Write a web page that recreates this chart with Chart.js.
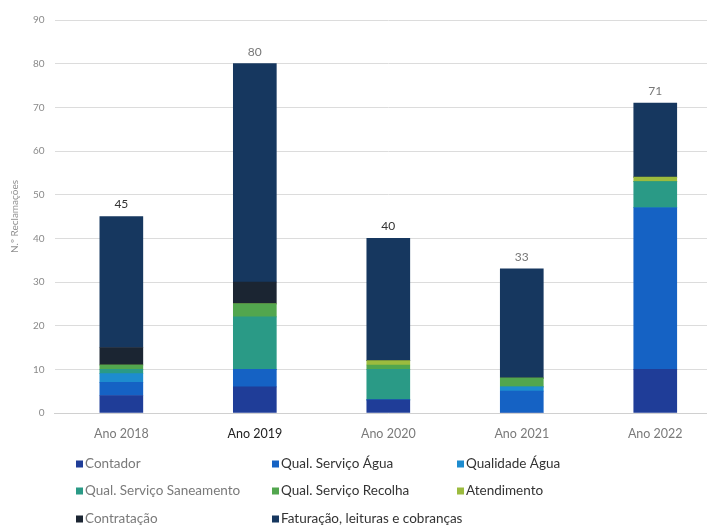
<!DOCTYPE html>
<html>
<head>
<meta charset="utf-8">
<script src="https://cdn.jsdelivr.net/npm/chart.js@4.4.1/dist/chart.umd.min.js"></script>
<style>
  html, body { margin: 0; padding: 0; background: #fff; overflow: hidden; }
  #wrap { width: 707px; height: 526px; overflow: hidden; position: relative; }
  #wrap canvas { position: absolute; left: 0; top: 0; }
</style>
</head>
<body>
<div id="wrap"><canvas id="chart" width="722" height="526"></canvas></div>
<script>
// complaints per year, stacked by category
const years = ['Ano 2018', 'Ano 2019', 'Ano 2020', 'Ano 2021', 'Ano 2022'];

const contador              = [4, 6, 3, 0, 10];
const qualServicoAgua       = [3, 4, 0, 5, 37];
const qualidadeAgua         = [2, 0, 0, 1, 0];
const qualServicoSaneamento = [1, 12, 7, 0, 6];
const qualServicoRecolha    = [1, 3, 1, 2, 0];
const atendimento           = [0, 0, 1, 0, 1];
const contratacao           = [4, 5, 0, 0, 0];
const faturacao             = [30, 50, 28, 25, 17];

const yTicks = [0, 10, 20, 30, 40, 50, 60, 70, 80, 90];

const series = [
  { label: 'Contador', data: contador, color: '#1f3d98' },
  { label: 'Qual. Serviço Água', data: qualServicoAgua, color: '#1562c4' },
  { label: 'Qualidade Água', data: qualidadeAgua, color: '#1d8ccf' },
  { label: 'Qual. Serviço Saneamento', data: qualServicoSaneamento, color: '#2a9a86' },
  { label: 'Qual. Serviço Recolha', data: qualServicoRecolha, color: '#52a64e' },
  { label: 'Atendimento', data: atendimento, color: '#9cbb3e' },
  { label: 'Contratação', data: contratacao, color: '#1b2532' },
  { label: 'Faturação, leituras e cobranças', data: faturacao, color: '#16375f' },
];

const FONT = 'Lato, "Liberation Sans", sans-serif';
const tickColors = ['#7a7a7a', '#222222', '#7a7a7a', '#7a7a7a', '#7a7a7a'];
const totalColors = ['#333333', '#777777', '#333333', '#777777', '#777777'];

// totals on top of each stack
const totalsPlugin = {
  id: 'totals',
  afterDatasetsDraw(chart) {
    const ctx = chart.ctx;
    const last = chart.getDatasetMeta(chart.data.datasets.length - 1);
    ctx.save();
    ctx.font = '12px ' + FONT;
    ctx.textAlign = 'center';
    ctx.textBaseline = 'bottom';
    years.forEach((_, i) => {
      const total = chart.data.datasets.reduce((s, ds) => s + ds.data[i], 0);
      const bar = last.data[i];
      ctx.fillStyle = totalColors[i];
      ctx.fillText(String(total), bar.x, bar.y - 6);
    });
    ctx.restore();
  }
};

// three-column legend under the axis
const gridLegend = {
  id: 'gridLegend',
  afterDraw(chart) {
    const ctx = chart.ctx;
    const cols = [76, 272, 457];
    const rows = [464, 491, 519];
    ctx.save();
    ctx.font = '13.5px ' + FONT;
    ctx.textBaseline = 'middle';
    chart.data.datasets.forEach((ds, i) => {
      const x = cols[i % 3];
      const y = rows[Math.floor(i / 3)];
      ctx.fillStyle = ds.backgroundColor;
      ctx.fillRect(x, y - 3.5, 7, 7);
      ctx.fillStyle = i % 3 === 0 ? '#7a7a7a' : '#333333';
      ctx.fillText(ds.label, x + 9, y);
    });
    ctx.restore();
  }
};

new Chart(document.getElementById('chart'), {
  type: 'bar',
  data: {
    labels: years,
    datasets: series.map(s => ({
      label: s.label,
      data: s.data,
      backgroundColor: s.color,
      borderWidth: 0,
      barThickness: 43,
    })),
  },
  options: {
    responsive: false,
    animation: false,
    layout: { padding: { top: 20, bottom: 80, left: 5, right: 0 } },
    plugins: {
      legend: { display: false },
      tooltip: { enabled: false },
    },
    scales: {
      x: {
        stacked: true,
        grid: { display: false },
        border: { color: '#d0d0d0' },
        ticks: {
          font: { family: FONT, size: 12.5 },
          color: ctx => tickColors[ctx.index],
          padding: 5,
        },
      },
      y: {
        stacked: true,
        min: 0,
        max: 90,
        afterBuildTicks: axis => { axis.ticks = yTicks.map(v => ({ value: v })); },
        grid: { color: '#dcdcdc', drawTicks: false },
        border: { display: false },
        ticks: {
          font: { family: FONT, size: 10 },
          color: '#8a8a8a',
          padding: 10,
        },
        title: {
          display: true,
          text: 'N.º Reclamações',
          font: { family: FONT, size: 10 },
          color: '#909090',
          padding: { bottom: 2 },
        },
      },
    },
  },
  plugins: [totalsPlugin, gridLegend],
});
</script>
</body>
</html>
